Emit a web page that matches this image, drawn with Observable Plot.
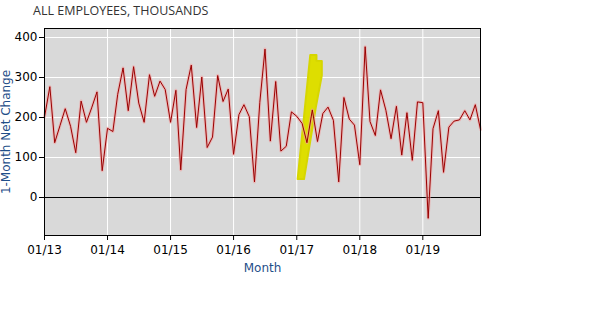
<!DOCTYPE html>
<html>
<head>
<meta charset="utf-8">
<script src="https://cdn.jsdelivr.net/npm/d3@7"></script>
<script src="https://cdn.jsdelivr.net/npm/@observablehq/plot@0.6"></script>
<style>
  html, body { margin: 0; padding: 0; background: #fff; }
  #wrap { position: relative; width: 602px; height: 318px; }
  #title { position: absolute; left: 33px; top: 2px; font: 12.5px "Open Sans", sans-serif; color: #333; white-space: nowrap; }
  svg { display: block; }
</style>
</head>
<body>
<div id="wrap"><div id="title">ALL EMPLOYEES, THOUSANDS</div></div>
<script>
const title = "ALL EMPLOYEES, THOUSANDS";
const yLabel = "1-Month Net Change";
const xLabel = "Month";
const startYear = 2013;
// monthly net change, thousands
const v2013 = [201, 277, 137, 180, 222, 178, 112, 241, 188, 224, 264, 67];
const v2014 = [173, 165, 258, 324, 217, 327, 236, 188, 307, 253, 291, 270];
const v2015 = [188, 268, 69, 270, 331, 175, 301, 125, 151, 305, 240, 271];
const v2016 = [108, 207, 232, 202, 39, 238, 371, 141, 290, 116, 128, 214];
const v2017 = [203, 185, 137, 219, 140, 210, 226, 193, 39, 250, 196, 181];
const v2018 = [82, 377, 190, 155, 269, 218, 147, 228, 106, 212, 93, 239];
const v2019 = [237, -52, 172, 217, 63, 176, 191, 194, 217, 194, 232, 170];
const xTickLabels = ["01/13", "01/14", "01/15", "01/16", "01/17", "01/18", "01/19"];
const yTicks = [0, 100, 200, 300, 400];
// hand-drawn yellow highlight annotation (date, value)
const hlDates = ["2017-01-06", "2017-02-12", "2017-04-21", "2017-05-26", "2017-05-26", "2017-04-25", "2017-04-25", "2017-03-20"];
const hlValues = [46, 46, 225, 305, 341, 342, 356, 356];

const values = [...v2013, ...v2014, ...v2015, ...v2016, ...v2017, ...v2018, ...v2019];
const data = values.map((v, i) => ({date: new Date(Date.UTC(startYear, i, 1)), value: v}));
const xTicks = xTickLabels.map((_, i) => new Date(Date.UTC(startYear + i, 0, 1)));
const highlight = hlDates.map((d, i) => ({date: new Date(d + "T00:00:00Z"), value: hlValues[i]}));

const chart = Plot.plot({
  width: 602,
  height: 318,
  marginTop: 28,
  marginBottom: 83,
  marginLeft: 44,
  marginRight: 122,
  style: {background: "transparent", fontFamily: "DejaVu Sans", fontSize: "12px", color: "black"},
  x: {type: "utc", domain: [data[0].date, data[data.length - 1].date]},
  y: {domain: [-95, 422.5]},
  marks: [
    Plot.frame({fill: "#d9d9d9", stroke: null}),
    Plot.gridX({ticks: xTicks, stroke: "white", strokeOpacity: 1, strokeWidth: 1}),
    Plot.gridY({ticks: yTicks, stroke: "white", strokeOpacity: 1, strokeWidth: 1}),
    Plot.line(highlight, {x: "date", y: "value", fill: "#dede00", stroke: "#d6d600", strokeWidth: 2, strokeLinejoin: "round", curve: "linear-closed"}),
    Plot.ruleY([0], {stroke: "black", strokeWidth: 1}),
    Plot.line(data, {x: "date", y: "value", stroke: "#f2a0a0", strokeWidth: 3, strokeOpacity: 0.6}),
    Plot.line(data, {x: "date", y: "value", stroke: "#990000", strokeWidth: 1}),
    Plot.frame({stroke: "black", strokeWidth: 1}),
    Plot.axisX({ticks: xTicks, tickFormat: (d, i) => xTickLabels[i], tickSize: 5, tickPadding: 5, label: null, fontSize: 12}),
    Plot.axisY({ticks: yTicks, tickSize: 5, tickPadding: 2, label: null, fontSize: 12}),
    Plot.text([xLabel], {frameAnchor: "bottom", dy: 36, fill: "#1f4e89", fontSize: 12}),
    Plot.text([yLabel], {frameAnchor: "left", dx: -38, rotate: -90, textAnchor: "middle", fill: "#1f4e89", fontSize: 12})
  ]
});
document.getElementById("wrap").appendChild(chart);
</script>
</body>
</html>
